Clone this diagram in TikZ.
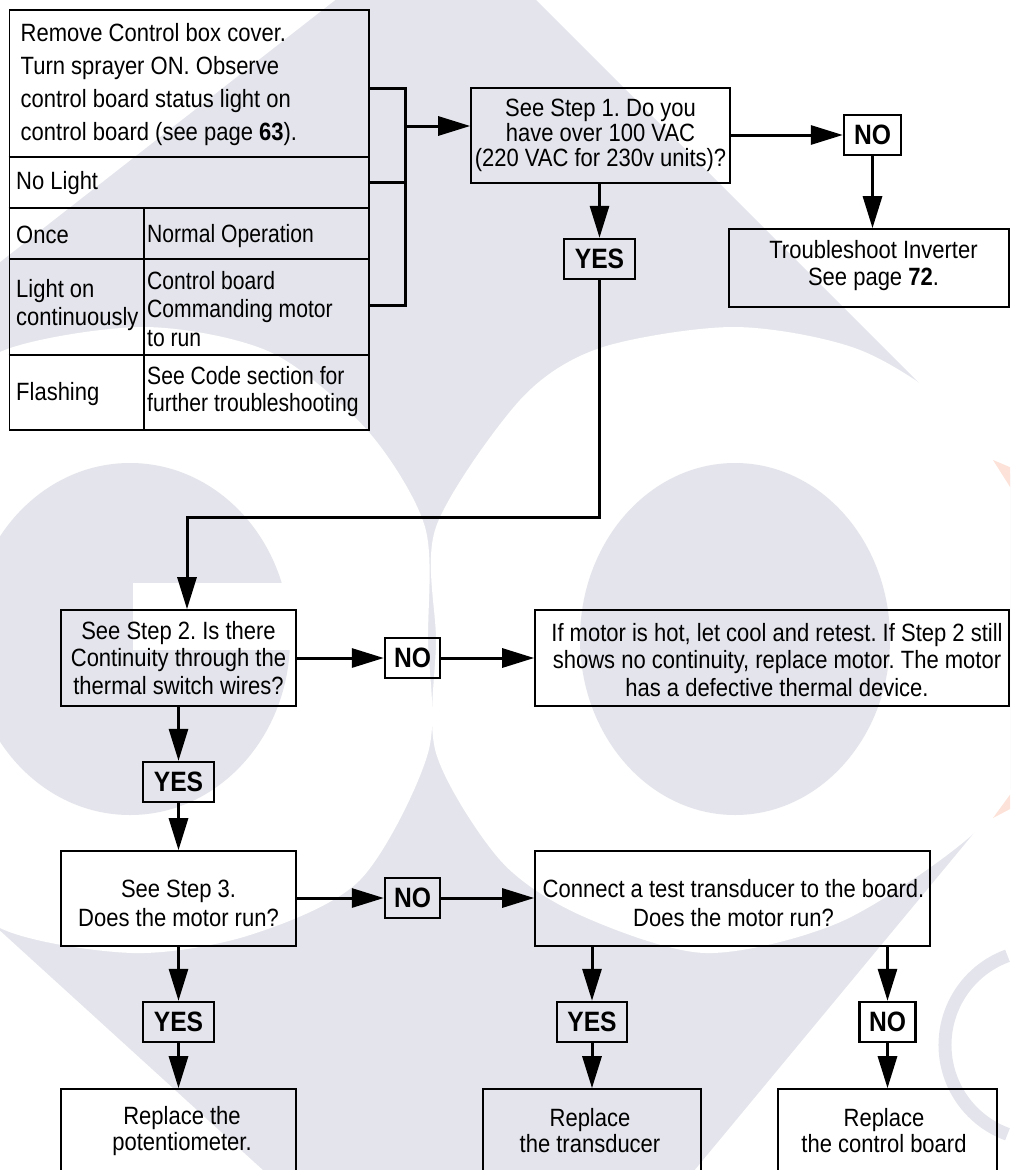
\documentclass[tikz,border=0pt]{standalone}
\usepackage{fontspec}
\setmainfont{Liberation Sans}[FakeStretch=0.88]
\newfontfamily\narrowfont{Liberation Sans}[FakeStretch=0.845]
\usetikzlibrary{arrows.meta}
\definecolor{wm}{RGB}{228,229,236}
\definecolor{wmo}{RGB}{252,226,216}
\newcommand\fsz[1]{\fontsize{25}{#1}\selectfont}
\frenchspacing
\begin{document}
\begin{tikzpicture}[x=1pt,y=-1pt,
  box/.style={draw, line width=1.6pt, inner sep=0pt, align=center},
  ans/.style={draw, line width=2.4pt, inner sep=0pt, minimum height=40pt, font=\fontsize{28}{30}\selectfont\bfseries},
  conn/.style={line width=3pt},
  arr/.style={conn, -{Triangle[length=32pt,width=19pt]}},
  txt/.style={inner sep=0pt, align=center},
  cell/.style={inner sep=0pt, align=left, anchor=west},
  tline/.style={line width=1.6pt}
]
\useasboundingbox (0,0) rectangle (1010,1170);

% ---------- watermark ----------
\begin{scope}
\clip (0,0) rectangle (1010,1170);
\fill[wm] (448,-88) -- (1153,617) -- (509,1394) -- (-395,571) -- cycle;
\fill[white] plot[smooth cycle] coordinates {(-120,600) (-60,420) (0,352) (143,327) (270,352) (367,430) (425,527) (428,640) (428,753) (360,880) (250,935) (133,953) (0,928) (-80,850)};
\fill[white] plot[smooth cycle] coordinates {(436,527) (520,400) (600,348) (735,327) (860,350) (960,415) (1040,520) (1070,640) (1040,760) (960,845) (838,923) (705,953) (580,915) (500,860) (436,753) (436,640)};
\fill[wm] (130,639) ellipse [x radius=160pt, y radius=176pt];
\fill[white] (133,583) rectangle (300,650);
\fill[wm] (735,639) ellipse [x radius=155pt, y radius=176pt];
\draw[wm, line width=13pt] (1040,1045) ++(110:95pt) arc[start angle=110, end angle=250, radius=95pt];
\fill[wmo] (993,460) -- (1012,468) -- (1012,490) -- cycle;
\fill[wmo] (993,818) -- (1012,792) -- (1012,808) -- cycle;
\end{scope}

% ---------- status table ----------
\node[draw, line width=1.6pt, minimum width=359.5pt, minimum height=420pt, inner sep=0pt] (tbl) at (189.25,220) {};
\coordinate (r1) at (0,157);
\coordinate (r2) at (0,208);
\coordinate (r3) at (0,259);
\coordinate (r4) at (0,355);
\coordinate (colt) at (144,208);
\draw[tline] (tbl.west |- r1) -- (tbl.east |- r1);
\draw[tline] (tbl.west |- r2) -- (tbl.east |- r2);
\draw[tline] (tbl.west |- r3) -- (tbl.east |- r3);
\draw[tline] (tbl.west |- r4) -- (tbl.east |- r4);
\draw[tline] (colt) -- (colt |- tbl.south);

\node[cell, font=\fsz{33}] (c0) at (20.5,85) {Remove Control box cover.\\Turn sprayer ON. Observe\\control board status light on\\control board (see page \textbf{63}).};
\node[cell, font=\fsz{28}] (c1) at (16,183) {No Light};
\node[cell, font=\fsz{28}] (c2) at (16,235) {Once};
\node[cell, font=\fsz{28}\narrowfont] (c3) at (147,236) {Normal Operation};
\node[cell, font=\fsz{28}] (c4) at (16,305) {Light on\\continuously};
\node[cell, font=\fsz{28.5}\narrowfont] (c5) at (147,309) {Control board\\Commanding motor\\to run};
\node[cell, font=\fsz{28}] (c6) at (16,394) {Flashing};
\node[cell, font=\fsz{27}\narrowfont] (c7) at (147,392) {See Code section for\\further troubleshooting};

% bracket
\coordinate (bx1) at (405,88);
\coordinate (bx2) at (405,182);
\coordinate (bx3) at (405,305);
\coordinate (bm) at (405,126);
\draw[conn] (tbl.east |- bx1) -- (bx1) -- (bx3) -- (tbl.east |- bx3);
\draw[conn] (tbl.east |- bx2) -- (bx2);

% ---------- boxes ----------
\node[box, minimum width=259pt, minimum height=95pt, font=\fsz{25}] (b1) at (600.5,135.5) {See Step 1. Do you\\have over 100 VAC\\(220 VAC for 230v units)?};
\node[ans, minimum width=57pt] (no1) at (872.5,135) {NO};
\node[box, minimum width=280pt, minimum height=78pt] (inv) at (869,268) {};
\node[txt, font=\fsz{27}] (invt) at (873.5,265.5) {Troubleshoot Inverter\\See page \textbf{72}.};
\node[ans, minimum width=71pt] (yes1) at (599.5,259) {YES};

\node[box, minimum width=235pt, minimum height=96pt, font=\fsz{27.5}] (b2) at (178.5,658) {See Step 2. Is there\\Continuity through the\\thermal switch wires?};
\node[ans, minimum width=55pt] (no2) at (412.5,658) {NO};
\node[box, minimum width=474pt, minimum height=96pt] (hot) at (772,658) {};
\node[txt, font=\fsz{27.5}] (hott) at (777,660) {If motor is hot, let cool and retest. If Step 2 still\\shows no continuity, replace motor. The motor\\has a defective thermal device.};
\node[ans, minimum width=71pt] (yes2) at (178.5,782) {YES};

\node[box, minimum width=235pt, minimum height=95pt] (b3) at (178.5,898.5) {};
\node[txt, font=\fsz{29}] (b3t) at (178.5,903) {See Step 3.\\Does the motor run?};
\node[ans, minimum width=55pt] (no3) at (412.5,898) {NO};
\node[box, minimum width=395pt, minimum height=95pt] (b4) at (732.5,898.5) {};
\node[txt, font=\fsz{29}] (b4t) at (733.5,903) {Connect a test transducer to the board.\\Does the motor run?};

\node[ans, minimum width=71pt] (yes3) at (178.5,1022) {YES};
\node[ans, minimum width=70pt] (yes4) at (592,1022) {YES};
\node[ans, minimum width=56pt] (no4) at (887.5,1022) {NO};

\node[box, minimum width=235pt, minimum height=120pt] (b5) at (178.5,1149) {};
\node[txt, font=\fsz{26}] (b5t) at (182,1131) {Replace the\\potentiometer.};
\node[box, minimum width=218pt, minimum height=120pt] (b6) at (592,1149) {};
\node[txt, font=\fsz{26}] (b6t) at (590,1131) {Replace\\the transducer};
\node[box, minimum width=219pt, minimum height=120pt] (b7) at (887.5,1149) {};
\node[txt, font=\fsz{26}] (b7t) at (884,1131) {Replace\\the control board};

% ---------- connectors ----------
\draw[arr] (bm) -- (bm -| b1.west);
\draw[arr] (b1.east |- no1.west) -- (no1.west);
\draw[arr] (no1.south) -- (no1.south |- inv.north);
\draw[arr] (yes1.north |- b1.south) -- (yes1.north);
\coordinate (bendA) at (599.5,517);
\coordinate (bendB) at (187,517);
\draw[arr] (yes1.south) -- (bendA) -- (bendB) -- (bendB |- b2.north);
\draw[arr] (b2.east |- no2.west) -- (no2.west);
\draw[arr] (no2.east) -- (no2.east -| hot.west);
\draw[arr] (yes2.north |- b2.south) -- (yes2.north);
\draw[arr] (yes2.south) -- (yes2.south |- b3.north);
\draw[arr] (b3.east |- no3.west) -- (no3.west);
\draw[arr] (no3.east) -- (no3.east -| b4.west);
\draw[arr] (yes3.north |- b3.south) -- (yes3.north);
\draw[arr] (yes3.south) -- (yes3.south |- b5.north);
\draw[arr] (yes4.north |- b4.south) -- (yes4.north);
\draw[arr] (yes4.south) -- (yes4.south |- b6.north);
\draw[arr] (no4.north |- b4.south) -- (no4.north);
\draw[arr] (no4.south) -- (no4.south |- b7.north);
\end{tikzpicture}
\end{document}
